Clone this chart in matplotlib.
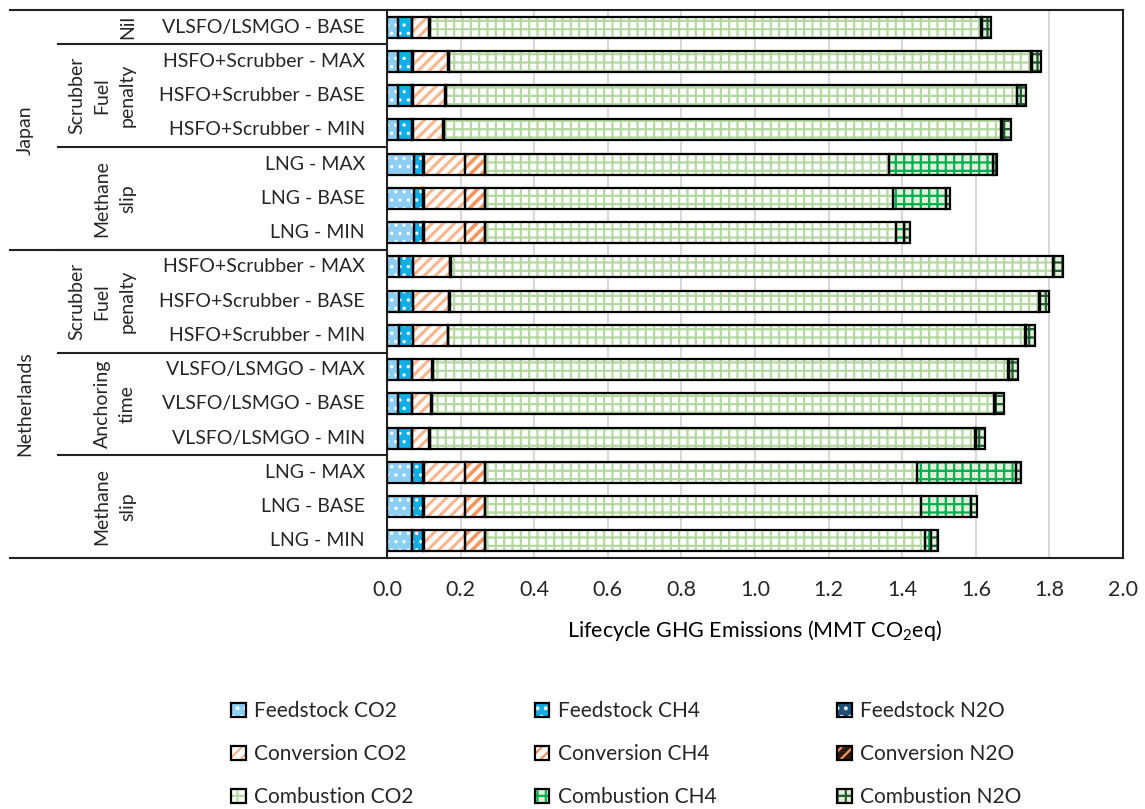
import numpy as np
import matplotlib.pyplot as plt
from matplotlib.patches import Patch
from matplotlib.legend_handler import HandlerTuple

plt.rcParams['font.family'] = ['Lato', 'DejaVu Sans']
plt.rcParams['mathtext.fontset'] = 'custom'
plt.rcParams['mathtext.rm'] = 'Lato'
plt.rcParams['mathtext.it'] = 'Lato:italic'
plt.rcParams['hatch.linewidth'] = 1.6
plt.rcParams['text.color'] = '#262626'
plt.rcParams['xtick.color'] = '#262626'

# rows, top to bottom
categories = ['VLSFO/LSMGO - BASE',
              'HSFO+Scrubber - MAX', 'HSFO+Scrubber - BASE', 'HSFO+Scrubber - MIN',
              'LNG - MAX', 'LNG - BASE', 'LNG - MIN',
              'HSFO+Scrubber - MAX', 'HSFO+Scrubber - BASE', 'HSFO+Scrubber - MIN',
              'VLSFO/LSMGO - MAX', 'VLSFO/LSMGO - BASE', 'VLSFO/LSMGO - MIN',
              'LNG - MAX', 'LNG - BASE', 'LNG - MIN']
countries = ['Japan', 'Netherlands']
country_rows = [7, 9]
groups = ['Nil', 'Scrubber\nFuel\npenalty', 'Methane\nslip',
          'Scrubber\nFuel\npenalty', 'Anchoring\ntime', 'Methane\nslip']
group_rows = [1, 3, 3, 3, 3, 3]

# MMT CO2eq
feed_co2 = [0.031, 0.031, 0.031, 0.031, 0.073, 0.073, 0.073,
            0.033, 0.033, 0.033, 0.031, 0.031, 0.031, 0.069, 0.069, 0.069]
feed_ch4 = [0.036, 0.038, 0.038, 0.038, 0.026, 0.026, 0.026,
            0.038, 0.038, 0.038, 0.037, 0.037, 0.037, 0.030, 0.030, 0.030]
feed_n2o = [0.001] * 16
conv_co2 = [0.047, 0.097, 0.088, 0.083, 0.112, 0.112, 0.112,
            0.099, 0.096, 0.093, 0.054, 0.051, 0.046, 0.112, 0.112, 0.112]
conv_ch4 = [0.001, 0.001, 0.001, 0.001, 0.054, 0.054, 0.054,
            0.001, 0.001, 0.001, 0.001, 0.001, 0.001, 0.054, 0.054, 0.054]
conv_n2o = [0.001] * 16
comb_co2 = [1.498, 1.581, 1.551, 1.514, 1.098, 1.108, 1.117,
            1.636, 1.603, 1.568, 1.562, 1.527, 1.482, 1.173, 1.185, 1.194]
comb_ch4 = [0.002, 0.002, 0.002, 0.002, 0.281, 0.143, 0.022,
            0.002, 0.002, 0.002, 0.002, 0.002, 0.002, 0.268, 0.136, 0.018]
comb_n2o = [0.025, 0.026, 0.024, 0.025, 0.012, 0.011, 0.014,
            0.025, 0.023, 0.025, 0.025, 0.025, 0.025, 0.015, 0.015, 0.018]

# label, values, face, hatch, hatch colour, hatch width
components = [
    ('Feedstock CO2', feed_co2, '#8DCFF3', '..', 'white', 1.2),
    ('Feedstock CH4', feed_ch4, '#12AEE6', '..', 'white', 1.2),
    ('Feedstock N2O', feed_n2o, '#1F4E79', '..', 'white', 1.2),
    ('Conversion CO2', conv_co2, 'white', '///', '#F9B58C', 2.2),
    ('Conversion CH4', conv_ch4, 'white', '///', '#F4955E', 2.6),
    ('Conversion N2O', conv_n2o, '#2B1A10', '///', '#F4955E', 2.2),
    ('Combustion CO2', comb_co2, 'white', '++', '#B4D9A0', 1.6),
    ('Combustion CH4', comb_ch4, '#E2F0D9', '++', '#00B050', 1.6),
    ('Combustion N2O', comb_n2o, '#E2F0D9', '++', '#1E5C2E', 1.6),
]

W, H = 1145, 809
fig = plt.figure(figsize=(W / 100, H / 100), dpi=100)
ax = fig.add_axes([387 / W, 1 - 558 / H, 736 / W, 548 / H])

y = np.arange(len(categories))
left = np.zeros(len(categories))
handles = []
for label, vals, face, hatch, hcol, hlw in components:
    vals = np.array(vals)
    with plt.rc_context({'hatch.linewidth': hlw}):
        ax.barh(y, vals, left=left, height=0.62, color=face, hatch=hatch,
                edgecolor=hcol, linewidth=0, zorder=2)
        fill = Patch(facecolor=face, hatch=hatch, edgecolor=hcol, linewidth=0)
    ax.barh(y, vals, left=left, height=0.62, fill=False,
            edgecolor='black', linewidth=1.6, zorder=3)
    left += vals
    handles.append((fill, Patch(fill=False, edgecolor='black', linewidth=1.6)))

ax.set_xlim(0, 2)
ax.set_ylim(len(categories) - 0.5, -0.5)
xt = np.arange(0, 2.01, 0.2)
ax.set_xticks(xt)
ax.set_xticklabels([f'{t:.1f}' for t in xt], fontsize=15.5)
ax.tick_params(axis='x', length=0, pad=16)
ax.set_yticks([])
ax.xaxis.grid(True, color='#D9D9D9', linewidth=1.5)
ax.set_axisbelow(True)
for s in ax.spines.values():
    s.set_linewidth(1.5)
    s.set_color('#222222')
ax.set_xlabel('Lifecycle GHG Emissions (MMT CO$_2$eq)', fontsize=15.5, labelpad=13)

# multi-level category axis
tr = ax.get_yaxis_transform()
for i, cat in enumerate(categories):
    ax.text(-0.03, i, cat, transform=tr, ha='right', va='center', fontsize=14)

start = 0
for g, n in zip(groups, group_rows):
    ax.text(-0.341, start + (n - 1) / 2, g, transform=tr, rotation=90,
            ha='right', va='center', multialignment='center', fontsize=14,
            linespacing=1.6)
    start += n
    if start < len(categories):
        ax.plot([-0.447, 0], [start - 0.5] * 2, transform=tr, color='#222222',
                lw=1.5, clip_on=False)

start = 0
for c, n in zip(countries, country_rows):
    ax.text(-0.492, start + (n - 1) / 2, c, transform=tr, rotation=90,
            ha='center', va='center', fontsize=14)
    start += n
    ax.plot([-0.512, 0], [start - 0.5] * 2, transform=tr, color='#222222',
            lw=1.5, clip_on=False)
ax.plot([-0.512, 0], [-0.5, -0.5], transform=tr, color='#222222', lw=1.5, clip_on=False)

order = [0, 3, 6, 1, 4, 7, 2, 5, 8]
fig.legend([handles[k] for k in order], [components[k][0] for k in order],
           handler_map={tuple: HandlerTuple(ndivide=1)},
           ncol=3, loc='upper left', bbox_to_anchor=(221 / W, 1 - 691 / H),
           frameon=False, fontsize=15, borderpad=0, handlelength=0.7,
           handleheight=0.7, handletextpad=0.4, columnspacing=5.8,
           labelspacing=1.1)

fig.savefig('out.png', dpi=100)
